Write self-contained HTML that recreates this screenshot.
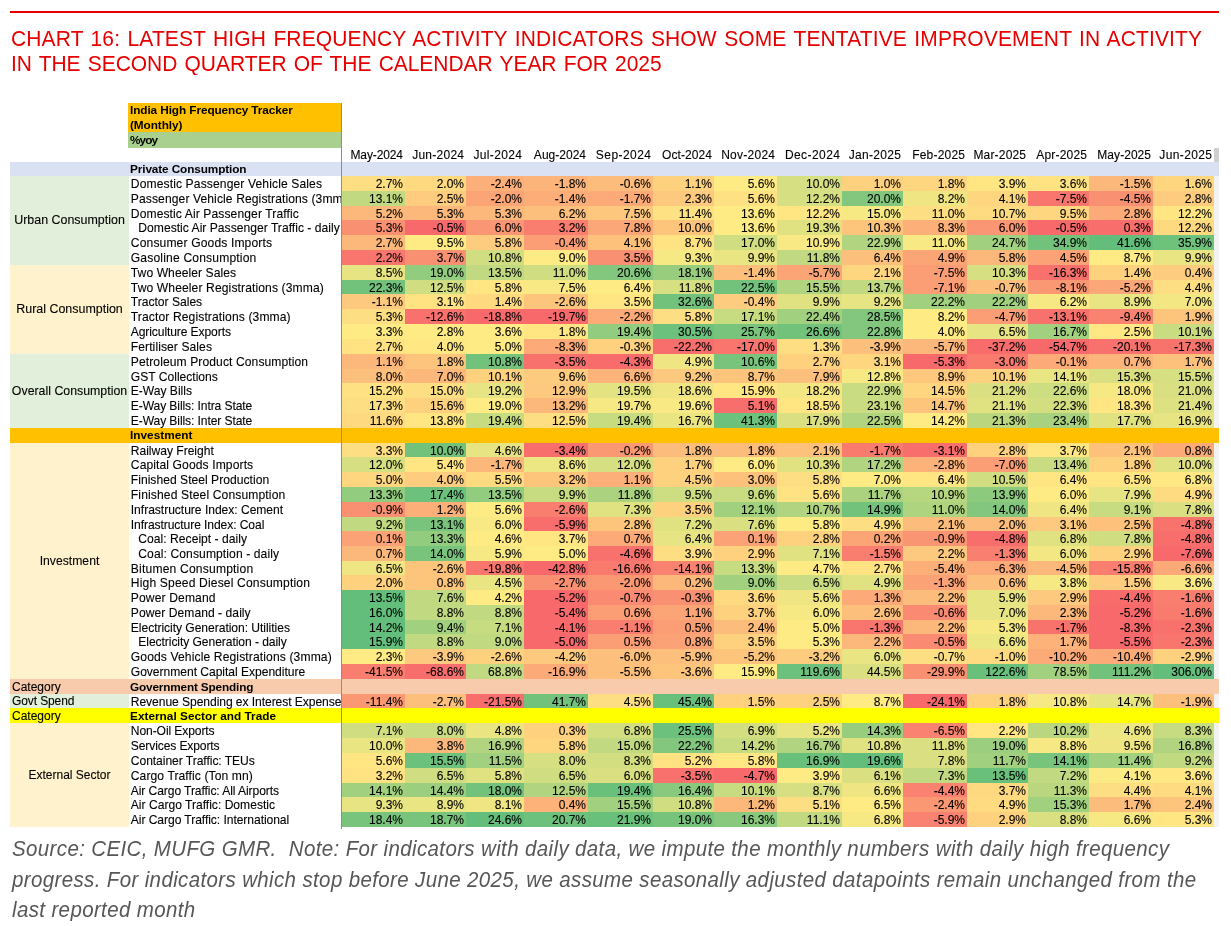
<!DOCTYPE html>
<html><head><meta charset="utf-8"><title>Chart 16</title>
<style>
html,body{margin:0;padding:0;background:#fff;}
body{width:1231px;height:926px;position:relative;overflow:hidden;font-family:"Liberation Sans",Arial,sans-serif;color:#000;}
.c,.l,.cat,.h,.t{-webkit-text-stroke:0.1px #000;}
.abs,.r,.c,.l,.cat,.band,.h{position:absolute;box-sizing:border-box;white-space:nowrap;}
.topline{left:10px;top:11px;width:1209px;height:2px;background:#e60000;}
.title{left:11px;top:25.6px;font-size:21px;line-height:23.3px;color:#e60000;letter-spacing:0.127px;word-spacing:1.4px;transform:scaleY(1.065);transform-origin:0 0;}
.src{left:12px;top:833.2px;font-size:20.5px;line-height:29.57px;color:#575757;font-style:italic;letter-spacing:0.365px;transform:scaleY(1.035);transform-origin:0 0;}
.c{font-size:12px;text-align:right;padding-right:2px;overflow:hidden;}
.h{font-size:12px;text-align:right;padding-right:2px;}
.l{font-size:12.1px;left:129px;width:212px;padding-left:1px;overflow:hidden;}
.cat{font-size:12.4px;left:10px;width:119px;text-align:center;}
.band{left:10px;width:1209px;}
.b{font-weight:bold;font-size:11.8px !important;}
</style></head><body>

<div class="abs topline"></div>
<div class="abs title">CHART 16: LATEST HIGH FREQUENCY ACTIVITY INDICATORS SHOW SOME TENTATIVE IMPROVEMENT IN ACTIVITY<br><span style="letter-spacing:-0.045px">IN THE SECOND QUARTER OF THE CALENDAR YEAR FOR 2025</span></div>
<div class="abs" style="left:128px;top:103px;width:213px;height:29px;background:#ffc000;"></div>
<div class="abs" style="left:128px;top:132px;width:213px;height:16px;background:#a9d08e;"></div>
<div class="abs b" style="left:130px;top:103px;line-height:15.3px;letter-spacing:-0.091px;">India High Frequency Tracker<br>(Monthly)</div>
<div class="abs b" style="left:130px;top:133px;line-height:15px;letter-spacing:-0.9px;">%yoy</div>
<div class="h" style="left:342px;top:148px;width:63px;height:14px;line-height:14px;letter-spacing:-0.114px;padding-right:2.11px;">May-2024</div>
<div class="h" style="left:405px;top:148px;width:61px;height:14px;line-height:14px;letter-spacing:0.257px;padding-right:1.74px;">Jun-2024</div>
<div class="h" style="left:466px;top:148px;width:58px;height:14px;line-height:14px;letter-spacing:0.371px;padding-right:1.63px;">Jul-2024</div>
<div class="h" style="left:524px;top:148px;width:64px;height:14px;line-height:14px;letter-spacing:0.014px;padding-right:1.99px;">Aug-2024</div>
<div class="h" style="left:588px;top:148px;width:65px;height:14px;line-height:14px;letter-spacing:0.443px;padding-right:1.56px;">Sep-2024</div>
<div class="h" style="left:653px;top:148px;width:61px;height:14px;line-height:14px;letter-spacing:0.086px;padding-right:1.91px;">Oct-2024</div>
<div class="h" style="left:714px;top:148px;width:63px;height:14px;line-height:14px;letter-spacing:0.257px;padding-right:1.74px;">Nov-2024</div>
<div class="h" style="left:777px;top:148px;width:65px;height:14px;line-height:14px;letter-spacing:0.443px;padding-right:1.56px;">Dec-2024</div>
<div class="h" style="left:842px;top:148px;width:61px;height:14px;line-height:14px;letter-spacing:0.314px;padding-right:1.69px;">Jan-2025</div>
<div class="h" style="left:903px;top:148px;width:64px;height:14px;line-height:14px;letter-spacing:0.214px;padding-right:1.79px;">Feb-2025</div>
<div class="h" style="left:967px;top:148px;width:61px;height:14px;line-height:14px;letter-spacing:0.171px;padding-right:1.83px;">Mar-2025</div>
<div class="h" style="left:1028px;top:148px;width:61px;height:14px;line-height:14px;letter-spacing:0.2px;padding-right:1.80px;">Apr-2025</div>
<div class="h" style="left:1089px;top:148px;width:64px;height:14px;line-height:14px;letter-spacing:0.043px;padding-right:1.96px;">May-2025</div>
<div class="h" style="left:1153px;top:148px;width:61px;height:14px;line-height:14px;letter-spacing:0.386px;padding-right:1.61px;">Jun-2025</div>
<div class="abs" style="left:1214px;top:148px;width:5px;height:14px;background:#d0d0d0;"></div>
<div class="abs" style="left:1214px;top:162px;width:5px;height:665px;background:#f2f2f2;"></div>
<div class="band" style="top:162px;height:14px;background:#d9e1f2;"></div>
<div class="abs b" style="left:130px;top:162px;height:14px;overflow:hidden;line-height:15px;letter-spacing:-0.115px;">Private Consumption</div>
<div class="band" style="top:428px;height:15px;background:#ffc000;"></div>
<div class="abs b" style="left:130px;top:428px;height:15px;overflow:hidden;line-height:15px;letter-spacing:0.023px;">Investment</div>
<div class="band" style="top:679px;height:15px;background:#f8cbad;"></div>
<div class="abs t" style="left:12px;top:680px;height:15px;line-height:15px;font-size:12px;">Category</div>
<div class="abs b" style="left:130px;top:680px;height:14px;overflow:hidden;line-height:15px;letter-spacing:-0.174px;">Government Spending</div>
<div class="band" style="top:708px;height:15px;background:#ffff00;"></div>
<div class="abs t" style="left:12px;top:709px;height:15px;line-height:15px;font-size:12px;">Category</div>
<div class="abs b" style="left:130px;top:709px;height:14px;overflow:hidden;line-height:15px;letter-spacing:0.021px;">External Sector and Trade</div>
<div class="cat" style="top:176px;height:89px;line-height:89px;background:#e2efda;font-size:12.45px;">Urban Consumption</div>
<div class="cat" style="top:265px;height:89px;line-height:89px;background:#fff2cc;font-size:12.45px;">Rural Consumption</div>
<div class="cat" style="top:354px;height:74px;line-height:74px;background:#e2efda;font-size:12.35px;">Overall Consumption</div>
<div class="cat" style="top:443px;height:236px;line-height:236px;background:#fff2cc;font-size:12.2px;">Investment</div>
<div class="cat" style="top:694px;height:14px;line-height:14px;background:#e2efda;text-align:left;padding-left:2px;font-size:12px;letter-spacing:-0.11px;">Govt Spend</div>
<div class="cat" style="top:723px;height:104px;line-height:104px;background:#fff2cc;font-size:12px;">External Sector</div>
<div class="l" style="top:176px;height:18px;line-height:17px;padding-left:1.8px;letter-spacing:0.118px;">Domestic Passenger Vehicle Sales</div>
<div class="c" style="left:342px;top:176px;width:63px;height:15px;line-height:17px;background:#fede82;">2.7%</div>
<div class="c" style="left:405px;top:176px;width:61px;height:15px;line-height:17px;background:#fed980;">2.0%</div>
<div class="c" style="left:466px;top:176px;width:58px;height:15px;line-height:17px;background:#fcaf78;">-2.4%</div>
<div class="c" style="left:524px;top:176px;width:64px;height:15px;line-height:17px;background:#fcb47a;">-1.8%</div>
<div class="c" style="left:588px;top:176px;width:65px;height:15px;line-height:17px;background:#fcbc7b;">-0.6%</div>
<div class="c" style="left:653px;top:176px;width:61px;height:15px;line-height:17px;background:#fed17f;">1.1%</div>
<div class="c" style="left:714px;top:176px;width:63px;height:15px;line-height:17px;background:#ffeb84;">5.6%</div>
<div class="c" style="left:777px;top:176px;width:65px;height:15px;line-height:17px;background:#d6df82;">10.0%</div>
<div class="c" style="left:842px;top:176px;width:61px;height:15px;line-height:17px;background:#fed17f;">1.0%</div>
<div class="c" style="left:903px;top:176px;width:64px;height:15px;line-height:17px;background:#fed680;">1.8%</div>
<div class="c" style="left:967px;top:176px;width:61px;height:15px;line-height:17px;background:#ffe683;">3.9%</div>
<div class="c" style="left:1028px;top:176px;width:61px;height:15px;line-height:17px;background:#ffe382;">3.6%</div>
<div class="c" style="left:1089px;top:176px;width:64px;height:15px;line-height:17px;background:#fcb77a;">-1.5%</div>
<div class="c" style="left:1153px;top:176px;width:61px;height:15px;line-height:17px;background:#fed680;">1.6%</div>
<div class="l" style="top:191px;height:18px;line-height:17px;padding-left:1.8px;letter-spacing:0.1px;">Passenger Vehicle Registrations (3mma)</div>
<div class="c" style="left:342px;top:191px;width:63px;height:15px;line-height:17px;background:#c1d980;">13.1%</div>
<div class="c" style="left:405px;top:191px;width:61px;height:15px;line-height:17px;background:#fdcc7e;">2.5%</div>
<div class="c" style="left:466px;top:191px;width:58px;height:15px;line-height:17px;background:#fba576;">-2.0%</div>
<div class="c" style="left:524px;top:191px;width:64px;height:15px;line-height:17px;background:#fcad78;">-1.4%</div>
<div class="c" style="left:588px;top:191px;width:65px;height:15px;line-height:17px;background:#fcaa78;">-1.7%</div>
<div class="c" style="left:653px;top:191px;width:61px;height:15px;line-height:17px;background:#fdc97e;">2.3%</div>
<div class="c" style="left:714px;top:191px;width:63px;height:15px;line-height:17px;background:#fee182;">5.6%</div>
<div class="c" style="left:777px;top:191px;width:65px;height:15px;line-height:17px;background:#d6df82;">12.2%</div>
<div class="c" style="left:842px;top:191px;width:61px;height:15px;line-height:17px;background:#82c77d;">20.0%</div>
<div class="c" style="left:903px;top:191px;width:64px;height:15px;line-height:17px;background:#efe683;">8.2%</div>
<div class="c" style="left:967px;top:191px;width:61px;height:15px;line-height:17px;background:#fed680;">4.1%</div>
<div class="c" style="left:1028px;top:191px;width:61px;height:15px;line-height:17px;background:#f9766e;">-7.5%</div>
<div class="c" style="left:1089px;top:191px;width:64px;height:15px;line-height:17px;background:#fa9072;">-4.5%</div>
<div class="c" style="left:1153px;top:191px;width:61px;height:15px;line-height:17px;background:#fdcc7e;">2.8%</div>
<div class="l" style="top:206px;height:17px;line-height:16px;padding-left:1.8px;letter-spacing:0.1px;">Domestic Air Passenger Traffic</div>
<div class="c" style="left:342px;top:206px;width:63px;height:14px;line-height:16px;background:#fcb77a;">5.2%</div>
<div class="c" style="left:405px;top:206px;width:61px;height:14px;line-height:16px;background:#fcb77a;">5.3%</div>
<div class="c" style="left:466px;top:206px;width:58px;height:14px;line-height:16px;background:#fcb77a;">5.3%</div>
<div class="c" style="left:524px;top:206px;width:64px;height:14px;line-height:16px;background:#fdbf7c;">6.2%</div>
<div class="c" style="left:588px;top:206px;width:65px;height:14px;line-height:16px;background:#fdc77d;">7.5%</div>
<div class="c" style="left:653px;top:206px;width:61px;height:14px;line-height:16px;background:#fee182;">11.4%</div>
<div class="c" style="left:714px;top:206px;width:63px;height:14px;line-height:16px;background:#ffeb84;">13.6%</div>
<div class="c" style="left:777px;top:206px;width:65px;height:14px;line-height:16px;background:#ffe683;">12.2%</div>
<div class="c" style="left:842px;top:206px;width:61px;height:14px;line-height:16px;background:#f6e883;">15.0%</div>
<div class="c" style="left:903px;top:206px;width:64px;height:14px;line-height:16px;background:#fede82;">11.0%</div>
<div class="c" style="left:967px;top:206px;width:61px;height:14px;line-height:16px;background:#fedb81;">10.7%</div>
<div class="c" style="left:1028px;top:206px;width:61px;height:14px;line-height:16px;background:#fed680;">9.5%</div>
<div class="c" style="left:1089px;top:206px;width:64px;height:14px;line-height:16px;background:#fcaa78;">2.8%</div>
<div class="c" style="left:1153px;top:206px;width:61px;height:14px;line-height:16px;background:#ffe683;">12.2%</div>
<div class="l" style="top:220px;height:18px;line-height:17px;padding-left:9.3px;letter-spacing:0.018px;">Domestic Air Passenger Traffic - daily</div>
<div class="c" style="left:342px;top:220px;width:63px;height:15px;line-height:17px;background:#fa9072;">5.3%</div>
<div class="c" style="left:405px;top:220px;width:61px;height:15px;line-height:17px;background:#f8696b;">-0.5%</div>
<div class="c" style="left:466px;top:220px;width:58px;height:15px;line-height:17px;background:#fa9674;">6.0%</div>
<div class="c" style="left:524px;top:220px;width:64px;height:15px;line-height:17px;background:#f97e6f;">3.2%</div>
<div class="c" style="left:588px;top:220px;width:65px;height:15px;line-height:17px;background:#fba777;">7.8%</div>
<div class="c" style="left:653px;top:220px;width:61px;height:15px;line-height:17px;background:#fdc47c;">10.0%</div>
<div class="c" style="left:714px;top:220px;width:63px;height:15px;line-height:17px;background:#ffeb84;">13.6%</div>
<div class="c" style="left:777px;top:220px;width:65px;height:15px;line-height:17px;background:#e0e282;">19.3%</div>
<div class="c" style="left:842px;top:220px;width:61px;height:15px;line-height:17px;background:#fdc47c;">10.3%</div>
<div class="c" style="left:903px;top:220px;width:64px;height:15px;line-height:17px;background:#fcaf78;">8.3%</div>
<div class="c" style="left:967px;top:220px;width:61px;height:15px;line-height:17px;background:#fa9674;">6.0%</div>
<div class="c" style="left:1028px;top:220px;width:61px;height:15px;line-height:17px;background:#f8696b;">-0.5%</div>
<div class="c" style="left:1089px;top:220px;width:64px;height:15px;line-height:17px;background:#f86e6c;">0.3%</div>
<div class="c" style="left:1153px;top:220px;width:61px;height:15px;line-height:17px;background:#fed980;">12.2%</div>
<div class="l" style="top:235px;height:18px;line-height:17px;padding-left:1.8px;letter-spacing:0.132px;">Consumer Goods Imports</div>
<div class="c" style="left:342px;top:235px;width:63px;height:15px;line-height:17px;background:#fcb77a;">2.7%</div>
<div class="c" style="left:405px;top:235px;width:61px;height:15px;line-height:17px;background:#ffeb84;">9.5%</div>
<div class="c" style="left:466px;top:235px;width:58px;height:15px;line-height:17px;background:#fdcc7e;">5.8%</div>
<div class="c" style="left:524px;top:235px;width:64px;height:15px;line-height:17px;background:#fb9d75;">-0.4%</div>
<div class="c" style="left:588px;top:235px;width:65px;height:15px;line-height:17px;background:#fdc17c;">4.1%</div>
<div class="c" style="left:653px;top:235px;width:61px;height:15px;line-height:17px;background:#ffe382;">8.7%</div>
<div class="c" style="left:714px;top:235px;width:63px;height:15px;line-height:17px;background:#d0de81;">17.0%</div>
<div class="c" style="left:777px;top:235px;width:65px;height:15px;line-height:17px;background:#f9e984;">10.9%</div>
<div class="c" style="left:842px;top:235px;width:61px;height:15px;line-height:17px;background:#b1d480;">22.9%</div>
<div class="c" style="left:903px;top:235px;width:64px;height:15px;line-height:17px;background:#f9e984;">11.0%</div>
<div class="c" style="left:967px;top:235px;width:61px;height:15px;line-height:17px;background:#a1d07f;">24.7%</div>
<div class="c" style="left:1028px;top:235px;width:61px;height:15px;line-height:17px;background:#73c27c;">34.9%</div>
<div class="c" style="left:1089px;top:235px;width:64px;height:15px;line-height:17px;background:#63be7b;">41.6%</div>
<div class="c" style="left:1153px;top:235px;width:61px;height:15px;line-height:17px;background:#6fc27c;">35.9%</div>
<div class="l" style="top:250px;height:18px;line-height:17px;padding-left:1.8px;letter-spacing:0.168px;">Gasoline Consumption</div>
<div class="c" style="left:342px;top:250px;width:63px;height:15px;line-height:17px;background:#f9766e;">2.2%</div>
<div class="c" style="left:405px;top:250px;width:61px;height:15px;line-height:17px;background:#fa9072;">3.7%</div>
<div class="c" style="left:466px;top:250px;width:58px;height:15px;line-height:17px;background:#d0de81;">10.8%</div>
<div class="c" style="left:524px;top:250px;width:64px;height:15px;line-height:17px;background:#ffeb84;">9.0%</div>
<div class="c" style="left:588px;top:250px;width:65px;height:15px;line-height:17px;background:#fa9072;">3.5%</div>
<div class="c" style="left:653px;top:250px;width:61px;height:15px;line-height:17px;background:#f6e883;">9.3%</div>
<div class="c" style="left:714px;top:250px;width:63px;height:15px;line-height:17px;background:#e9e583;">9.9%</div>
<div class="c" style="left:777px;top:250px;width:65px;height:15px;line-height:17px;background:#c1d980;">11.8%</div>
<div class="c" style="left:842px;top:250px;width:61px;height:15px;line-height:17px;background:#fdbf7c;">6.4%</div>
<div class="c" style="left:903px;top:250px;width:64px;height:15px;line-height:17px;background:#fba576;">4.9%</div>
<div class="c" style="left:967px;top:250px;width:61px;height:15px;line-height:17px;background:#fcb77a;">5.8%</div>
<div class="c" style="left:1028px;top:250px;width:61px;height:15px;line-height:17px;background:#fba276;">4.5%</div>
<div class="c" style="left:1089px;top:250px;width:64px;height:15px;line-height:17px;background:#ffeb84;">8.7%</div>
<div class="c" style="left:1153px;top:250px;width:61px;height:15px;line-height:17px;background:#e9e583;">9.9%</div>
<div class="l" style="top:265px;height:18px;line-height:17px;padding-left:1.8px;letter-spacing:0.073px;">Two Wheeler Sales</div>
<div class="c" style="left:342px;top:265px;width:63px;height:15px;line-height:17px;background:#e6e483;">8.5%</div>
<div class="c" style="left:405px;top:265px;width:61px;height:15px;line-height:17px;background:#92cc7e;">19.0%</div>
<div class="c" style="left:466px;top:265px;width:58px;height:15px;line-height:17px;background:#c1d980;">13.5%</div>
<div class="c" style="left:524px;top:265px;width:64px;height:15px;line-height:17px;background:#d0de81;">11.0%</div>
<div class="c" style="left:588px;top:265px;width:65px;height:15px;line-height:17px;background:#82c77d;">20.6%</div>
<div class="c" style="left:653px;top:265px;width:61px;height:15px;line-height:17px;background:#98cd7e;">18.1%</div>
<div class="c" style="left:714px;top:265px;width:63px;height:15px;line-height:17px;background:#fdbf7c;">-1.4%</div>
<div class="c" style="left:777px;top:265px;width:65px;height:15px;line-height:17px;background:#fba576;">-5.7%</div>
<div class="c" style="left:842px;top:265px;width:61px;height:15px;line-height:17px;background:#fed680;">2.1%</div>
<div class="c" style="left:903px;top:265px;width:64px;height:15px;line-height:17px;background:#fb9d75;">-7.5%</div>
<div class="c" style="left:967px;top:265px;width:61px;height:15px;line-height:17px;background:#d6df82;">10.3%</div>
<div class="c" style="left:1028px;top:265px;width:61px;height:15px;line-height:17px;background:#f8716c;">-16.3%</div>
<div class="c" style="left:1089px;top:265px;width:64px;height:15px;line-height:17px;background:#fed17f;">1.4%</div>
<div class="c" style="left:1153px;top:265px;width:61px;height:15px;line-height:17px;background:#fdcc7e;">0.4%</div>
<div class="l" style="top:280px;height:17px;line-height:16px;padding-left:1.8px;letter-spacing:0.112px;">Two Wheeler Registrations (3mma)</div>
<div class="c" style="left:342px;top:280px;width:63px;height:14px;line-height:16px;background:#73c27c;">22.3%</div>
<div class="c" style="left:405px;top:280px;width:61px;height:14px;line-height:16px;background:#d0de81;">12.5%</div>
<div class="c" style="left:466px;top:280px;width:58px;height:14px;line-height:16px;background:#ffe683;">5.8%</div>
<div class="c" style="left:524px;top:280px;width:64px;height:14px;line-height:16px;background:#f9e984;">7.5%</div>
<div class="c" style="left:588px;top:280px;width:65px;height:14px;line-height:16px;background:#ffeb84;">6.4%</div>
<div class="c" style="left:653px;top:280px;width:61px;height:14px;line-height:16px;background:#d6df82;">11.8%</div>
<div class="c" style="left:714px;top:280px;width:63px;height:14px;line-height:16px;background:#73c27c;">22.5%</div>
<div class="c" style="left:777px;top:280px;width:65px;height:14px;line-height:16px;background:#b1d480;">15.5%</div>
<div class="c" style="left:842px;top:280px;width:61px;height:14px;line-height:16px;background:#c1d980;">13.7%</div>
<div class="c" style="left:903px;top:280px;width:64px;height:14px;line-height:16px;background:#fb9d75;">-7.1%</div>
<div class="c" style="left:967px;top:280px;width:61px;height:14px;line-height:16px;background:#fdbf7c;">-0.7%</div>
<div class="c" style="left:1028px;top:280px;width:61px;height:14px;line-height:16px;background:#fb9874;">-8.1%</div>
<div class="c" style="left:1089px;top:280px;width:64px;height:14px;line-height:16px;background:#fba777;">-5.2%</div>
<div class="c" style="left:1153px;top:280px;width:61px;height:14px;line-height:16px;background:#fede82;">4.4%</div>
<div class="l" style="top:294px;height:18px;line-height:17px;padding-left:1.8px;letter-spacing:-0.008px;">Tractor Sales</div>
<div class="c" style="left:342px;top:294px;width:63px;height:15px;line-height:17px;background:#fdc97e;">-1.1%</div>
<div class="c" style="left:405px;top:294px;width:61px;height:15px;line-height:17px;background:#ffe382;">3.1%</div>
<div class="c" style="left:466px;top:294px;width:58px;height:15px;line-height:17px;background:#fed980;">1.4%</div>
<div class="c" style="left:524px;top:294px;width:64px;height:15px;line-height:17px;background:#fdc47c;">-2.6%</div>
<div class="c" style="left:588px;top:294px;width:65px;height:15px;line-height:17px;background:#ffe683;">3.5%</div>
<div class="c" style="left:653px;top:294px;width:61px;height:15px;line-height:17px;background:#73c27c;">32.6%</div>
<div class="c" style="left:714px;top:294px;width:63px;height:15px;line-height:17px;background:#fdcc7e;">-0.4%</div>
<div class="c" style="left:777px;top:294px;width:65px;height:15px;line-height:17px;background:#e0e282;">9.9%</div>
<div class="c" style="left:842px;top:294px;width:61px;height:15px;line-height:17px;background:#e6e483;">9.2%</div>
<div class="c" style="left:903px;top:294px;width:64px;height:15px;line-height:17px;background:#a1d07f;">22.2%</div>
<div class="c" style="left:967px;top:294px;width:61px;height:15px;line-height:17px;background:#a1d07f;">22.2%</div>
<div class="c" style="left:1028px;top:294px;width:61px;height:15px;line-height:17px;background:#f6e883;">6.2%</div>
<div class="c" style="left:1089px;top:294px;width:64px;height:15px;line-height:17px;background:#e9e583;">8.9%</div>
<div class="c" style="left:1153px;top:294px;width:61px;height:15px;line-height:17px;background:#f3e783;">7.0%</div>
<div class="l" style="top:309px;height:18px;line-height:17px;padding-left:1.8px;letter-spacing:0.112px;">Tractor Registrations (3mma)</div>
<div class="c" style="left:342px;top:309px;width:63px;height:15px;line-height:17px;background:#fede82;">5.3%</div>
<div class="c" style="left:405px;top:309px;width:61px;height:15px;line-height:17px;background:#f8716c;">-12.6%</div>
<div class="c" style="left:466px;top:309px;width:58px;height:15px;line-height:17px;background:#f8696b;">-18.8%</div>
<div class="c" style="left:524px;top:309px;width:64px;height:15px;line-height:17px;background:#f8696b;">-19.7%</div>
<div class="c" style="left:588px;top:309px;width:65px;height:15px;line-height:17px;background:#fcaa78;">-2.2%</div>
<div class="c" style="left:653px;top:309px;width:61px;height:15px;line-height:17px;background:#fede82;">5.8%</div>
<div class="c" style="left:714px;top:309px;width:63px;height:15px;line-height:17px;background:#c7db81;">17.1%</div>
<div class="c" style="left:777px;top:309px;width:65px;height:15px;line-height:17px;background:#a1d07f;">22.4%</div>
<div class="c" style="left:842px;top:309px;width:61px;height:15px;line-height:17px;background:#82c77d;">28.5%</div>
<div class="c" style="left:903px;top:309px;width:64px;height:15px;line-height:17px;background:#ffeb84;">8.2%</div>
<div class="c" style="left:967px;top:309px;width:61px;height:15px;line-height:17px;background:#fb9d75;">-4.7%</div>
<div class="c" style="left:1028px;top:309px;width:61px;height:15px;line-height:17px;background:#f8716c;">-13.1%</div>
<div class="c" style="left:1089px;top:309px;width:64px;height:15px;line-height:17px;background:#f98370;">-9.4%</div>
<div class="c" style="left:1153px;top:309px;width:61px;height:15px;line-height:17px;background:#fdc47c;">1.9%</div>
<div class="l" style="top:324px;height:18px;line-height:17px;padding-left:1.8px;letter-spacing:-0.112px;">Agriculture Exports</div>
<div class="c" style="left:342px;top:324px;width:63px;height:15px;line-height:17px;background:#ffeb84;">3.3%</div>
<div class="c" style="left:405px;top:324px;width:61px;height:15px;line-height:17px;background:#ffeb84;">2.8%</div>
<div class="c" style="left:466px;top:324px;width:58px;height:15px;line-height:17px;background:#ffeb84;">3.6%</div>
<div class="c" style="left:524px;top:324px;width:64px;height:15px;line-height:17px;background:#ffe683;">1.8%</div>
<div class="c" style="left:588px;top:324px;width:65px;height:15px;line-height:17px;background:#92cc7e;">19.4%</div>
<div class="c" style="left:653px;top:324px;width:61px;height:15px;line-height:17px;background:#6cc17c;">30.5%</div>
<div class="c" style="left:714px;top:324px;width:63px;height:15px;line-height:17px;background:#79c47c;">25.7%</div>
<div class="c" style="left:777px;top:324px;width:65px;height:15px;line-height:17px;background:#73c27c;">26.6%</div>
<div class="c" style="left:842px;top:324px;width:61px;height:15px;line-height:17px;background:#82c77d;">22.8%</div>
<div class="c" style="left:903px;top:324px;width:64px;height:15px;line-height:17px;background:#ffeb84;">4.0%</div>
<div class="c" style="left:967px;top:324px;width:61px;height:15px;line-height:17px;background:#e6e483;">6.5%</div>
<div class="c" style="left:1028px;top:324px;width:61px;height:15px;line-height:17px;background:#a1d07f;">16.7%</div>
<div class="c" style="left:1089px;top:324px;width:64px;height:15px;line-height:17px;background:#ffe884;">2.5%</div>
<div class="c" style="left:1153px;top:324px;width:61px;height:15px;line-height:17px;background:#cadc81;">10.1%</div>
<div class="l" style="top:339px;height:18px;line-height:17px;padding-left:1.8px;letter-spacing:0.079px;">Fertiliser Sales</div>
<div class="c" style="left:342px;top:339px;width:63px;height:15px;line-height:17px;background:#ffe382;">2.7%</div>
<div class="c" style="left:405px;top:339px;width:61px;height:15px;line-height:17px;background:#ffe884;">4.0%</div>
<div class="c" style="left:466px;top:339px;width:58px;height:15px;line-height:17px;background:#ffeb84;">5.0%</div>
<div class="c" style="left:524px;top:339px;width:64px;height:15px;line-height:17px;background:#fcaa78;">-8.3%</div>
<div class="c" style="left:588px;top:339px;width:65px;height:15px;line-height:17px;background:#fed17f;">-0.3%</div>
<div class="c" style="left:653px;top:339px;width:61px;height:15px;line-height:17px;background:#f86e6c;">-22.2%</div>
<div class="c" style="left:714px;top:339px;width:63px;height:15px;line-height:17px;background:#f9756d;">-17.0%</div>
<div class="c" style="left:777px;top:339px;width:65px;height:15px;line-height:17px;background:#fede82;">1.3%</div>
<div class="c" style="left:842px;top:339px;width:61px;height:15px;line-height:17px;background:#fdbf7c;">-3.9%</div>
<div class="c" style="left:903px;top:339px;width:64px;height:15px;line-height:17px;background:#fcb77a;">-5.7%</div>
<div class="c" style="left:967px;top:339px;width:61px;height:15px;line-height:17px;background:#f86c6c;">-37.2%</div>
<div class="c" style="left:1028px;top:339px;width:61px;height:15px;line-height:17px;background:#f8696b;">-54.7%</div>
<div class="c" style="left:1089px;top:339px;width:64px;height:15px;line-height:17px;background:#f8716c;">-20.1%</div>
<div class="c" style="left:1153px;top:339px;width:61px;height:15px;line-height:17px;background:#f9736d;">-17.3%</div>
<div class="l" style="top:354px;height:18px;line-height:17px;padding-left:1.8px;letter-spacing:0.09px;">Petroleum Product Consumption</div>
<div class="c" style="left:342px;top:354px;width:63px;height:15px;line-height:17px;background:#fcb77a;">1.1%</div>
<div class="c" style="left:405px;top:354px;width:61px;height:15px;line-height:17px;background:#fdc47c;">1.8%</div>
<div class="c" style="left:466px;top:354px;width:58px;height:15px;line-height:17px;background:#73c27c;">10.8%</div>
<div class="c" style="left:524px;top:354px;width:64px;height:15px;line-height:17px;background:#f8716c;">-3.5%</div>
<div class="c" style="left:588px;top:354px;width:65px;height:15px;line-height:17px;background:#f86c6c;">-4.3%</div>
<div class="c" style="left:653px;top:354px;width:61px;height:15px;line-height:17px;background:#efe683;">4.9%</div>
<div class="c" style="left:714px;top:354px;width:63px;height:15px;line-height:17px;background:#79c47c;">10.6%</div>
<div class="c" style="left:777px;top:354px;width:65px;height:15px;line-height:17px;background:#fed17f;">2.7%</div>
<div class="c" style="left:842px;top:354px;width:61px;height:15px;line-height:17px;background:#fed680;">3.1%</div>
<div class="c" style="left:903px;top:354px;width:64px;height:15px;line-height:17px;background:#f8696b;">-5.3%</div>
<div class="c" style="left:967px;top:354px;width:61px;height:15px;line-height:17px;background:#f97b6e;">-3.0%</div>
<div class="c" style="left:1028px;top:354px;width:61px;height:15px;line-height:17px;background:#fcaa78;">-0.1%</div>
<div class="c" style="left:1089px;top:354px;width:64px;height:15px;line-height:17px;background:#fcb47a;">0.7%</div>
<div class="c" style="left:1153px;top:354px;width:61px;height:15px;line-height:17px;background:#fdc17c;">1.7%</div>
<div class="l" style="top:369px;height:17px;line-height:16px;padding-left:1.8px;letter-spacing:-0.007px;">GST Collections</div>
<div class="c" style="left:342px;top:369px;width:63px;height:14px;line-height:16px;background:#fdbf7c;">8.0%</div>
<div class="c" style="left:405px;top:369px;width:61px;height:14px;line-height:16px;background:#fcb77a;">7.0%</div>
<div class="c" style="left:466px;top:369px;width:58px;height:14px;line-height:16px;background:#fed17f;">10.1%</div>
<div class="c" style="left:524px;top:369px;width:64px;height:14px;line-height:16px;background:#fdcc7e;">9.6%</div>
<div class="c" style="left:588px;top:369px;width:65px;height:14px;line-height:16px;background:#fcb47a;">6.6%</div>
<div class="c" style="left:653px;top:369px;width:61px;height:14px;line-height:16px;background:#fdc97e;">9.2%</div>
<div class="c" style="left:714px;top:369px;width:63px;height:14px;line-height:16px;background:#fdc47c;">8.7%</div>
<div class="c" style="left:777px;top:369px;width:65px;height:14px;line-height:16px;background:#fdbf7c;">7.9%</div>
<div class="c" style="left:842px;top:369px;width:61px;height:14px;line-height:16px;background:#f6e883;">12.8%</div>
<div class="c" style="left:903px;top:369px;width:64px;height:14px;line-height:16px;background:#fdc77d;">8.9%</div>
<div class="c" style="left:967px;top:369px;width:61px;height:14px;line-height:16px;background:#fed17f;">10.1%</div>
<div class="c" style="left:1028px;top:369px;width:61px;height:14px;line-height:16px;background:#e9e583;">14.1%</div>
<div class="c" style="left:1089px;top:369px;width:64px;height:14px;line-height:16px;background:#dae082;">15.3%</div>
<div class="c" style="left:1153px;top:369px;width:61px;height:14px;line-height:16px;background:#d6df82;">15.5%</div>
<div class="l" style="top:383px;height:18px;line-height:17px;padding-left:1.8px;letter-spacing:-0.02px;">E-Way Bills</div>
<div class="c" style="left:342px;top:383px;width:63px;height:15px;line-height:17px;background:#fee182;">15.2%</div>
<div class="c" style="left:405px;top:383px;width:61px;height:15px;line-height:17px;background:#fede82;">15.0%</div>
<div class="c" style="left:466px;top:383px;width:58px;height:15px;line-height:17px;background:#e6e483;">19.2%</div>
<div class="c" style="left:524px;top:383px;width:64px;height:15px;line-height:17px;background:#fdc97e;">12.9%</div>
<div class="c" style="left:588px;top:383px;width:65px;height:15px;line-height:17px;background:#e3e382;">19.5%</div>
<div class="c" style="left:653px;top:383px;width:61px;height:15px;line-height:17px;background:#efe683;">18.6%</div>
<div class="c" style="left:714px;top:383px;width:63px;height:15px;line-height:17px;background:#ffe683;">15.9%</div>
<div class="c" style="left:777px;top:383px;width:65px;height:15px;line-height:17px;background:#f3e783;">18.2%</div>
<div class="c" style="left:842px;top:383px;width:61px;height:15px;line-height:17px;background:#cadc81;">22.9%</div>
<div class="c" style="left:903px;top:383px;width:64px;height:15px;line-height:17px;background:#fed680;">14.5%</div>
<div class="c" style="left:967px;top:383px;width:61px;height:15px;line-height:17px;background:#dae082;">21.2%</div>
<div class="c" style="left:1028px;top:383px;width:61px;height:15px;line-height:17px;background:#cddd81;">22.6%</div>
<div class="c" style="left:1089px;top:383px;width:64px;height:15px;line-height:17px;background:#f6e883;">18.0%</div>
<div class="c" style="left:1153px;top:383px;width:61px;height:15px;line-height:17px;background:#dae082;">21.0%</div>
<div class="l" style="top:398px;height:18px;line-height:17px;padding-left:1.8px;letter-spacing:-0.106px;">E-Way Bills: Intra State</div>
<div class="c" style="left:342px;top:398px;width:63px;height:15px;line-height:17px;background:#fede82;">17.3%</div>
<div class="c" style="left:405px;top:398px;width:61px;height:15px;line-height:17px;background:#fed17f;">15.6%</div>
<div class="c" style="left:466px;top:398px;width:58px;height:15px;line-height:17px;background:#ffeb84;">19.0%</div>
<div class="c" style="left:524px;top:398px;width:64px;height:15px;line-height:17px;background:#fcb77a;">13.2%</div>
<div class="c" style="left:588px;top:398px;width:65px;height:15px;line-height:17px;background:#f6e883;">19.7%</div>
<div class="c" style="left:653px;top:398px;width:61px;height:15px;line-height:17px;background:#f9e984;">19.6%</div>
<div class="c" style="left:714px;top:398px;width:63px;height:15px;line-height:17px;background:#f86e6c;">5.1%</div>
<div class="c" style="left:777px;top:398px;width:65px;height:15px;line-height:17px;background:#ffe683;">18.5%</div>
<div class="c" style="left:842px;top:398px;width:61px;height:15px;line-height:17px;background:#cadc81;">23.1%</div>
<div class="c" style="left:903px;top:398px;width:64px;height:15px;line-height:17px;background:#fdc47c;">14.7%</div>
<div class="c" style="left:967px;top:398px;width:61px;height:15px;line-height:17px;background:#e0e282;">21.1%</div>
<div class="c" style="left:1028px;top:398px;width:61px;height:15px;line-height:17px;background:#d3de81;">22.3%</div>
<div class="c" style="left:1089px;top:398px;width:64px;height:15px;line-height:17px;background:#ffe683;">18.3%</div>
<div class="c" style="left:1153px;top:398px;width:61px;height:15px;line-height:17px;background:#dde182;">21.4%</div>
<div class="l" style="top:413px;height:18px;line-height:17px;padding-left:1.8px;letter-spacing:-0.106px;">E-Way Bills: Inter State</div>
<div class="c" style="left:342px;top:413px;width:63px;height:15px;line-height:17px;background:#fed980;">11.6%</div>
<div class="c" style="left:405px;top:413px;width:61px;height:15px;line-height:17px;background:#ffe683;">13.8%</div>
<div class="c" style="left:466px;top:413px;width:58px;height:15px;line-height:17px;background:#c7db81;">19.4%</div>
<div class="c" style="left:524px;top:413px;width:64px;height:15px;line-height:17px;background:#fede82;">12.5%</div>
<div class="c" style="left:588px;top:413px;width:65px;height:15px;line-height:17px;background:#c7db81;">19.4%</div>
<div class="c" style="left:653px;top:413px;width:61px;height:15px;line-height:17px;background:#e9e583;">16.7%</div>
<div class="c" style="left:714px;top:413px;width:63px;height:15px;line-height:17px;background:#6cc17c;">41.3%</div>
<div class="c" style="left:777px;top:413px;width:65px;height:15px;line-height:17px;background:#dae082;">17.9%</div>
<div class="c" style="left:842px;top:413px;width:61px;height:15px;line-height:17px;background:#b1d480;">22.5%</div>
<div class="c" style="left:903px;top:413px;width:64px;height:15px;line-height:17px;background:#ffeb84;">14.2%</div>
<div class="c" style="left:967px;top:413px;width:61px;height:15px;line-height:17px;background:#bad780;">21.3%</div>
<div class="c" style="left:1028px;top:413px;width:61px;height:15px;line-height:17px;background:#a8d27f;">23.4%</div>
<div class="c" style="left:1089px;top:413px;width:64px;height:15px;line-height:17px;background:#e0e282;">17.7%</div>
<div class="c" style="left:1153px;top:413px;width:61px;height:15px;line-height:17px;background:#e6e483;">16.9%</div>
<div class="l" style="top:443px;height:17px;line-height:16px;padding-left:1.8px;letter-spacing:-0.027px;">Railway Freight</div>
<div class="c" style="left:342px;top:443px;width:63px;height:14px;line-height:16px;background:#fede82;">3.3%</div>
<div class="c" style="left:405px;top:443px;width:61px;height:14px;line-height:16px;background:#73c27c;">10.0%</div>
<div class="c" style="left:466px;top:443px;width:58px;height:14px;line-height:16px;background:#e6e483;">4.6%</div>
<div class="c" style="left:524px;top:443px;width:64px;height:14px;line-height:16px;background:#f86e6c;">-3.4%</div>
<div class="c" style="left:588px;top:443px;width:65px;height:14px;line-height:16px;background:#fb9874;">-0.2%</div>
<div class="c" style="left:653px;top:443px;width:61px;height:14px;line-height:16px;background:#fcbc7b;">1.8%</div>
<div class="c" style="left:714px;top:443px;width:63px;height:14px;line-height:16px;background:#fcbc7b;">1.8%</div>
<div class="c" style="left:777px;top:443px;width:65px;height:14px;line-height:16px;background:#fdc17c;">2.1%</div>
<div class="c" style="left:842px;top:443px;width:61px;height:14px;line-height:16px;background:#f97b6e;">-1.7%</div>
<div class="c" style="left:903px;top:443px;width:64px;height:14px;line-height:16px;background:#f86e6c;">-3.1%</div>
<div class="c" style="left:967px;top:443px;width:61px;height:14px;line-height:16px;background:#fed17f;">2.8%</div>
<div class="c" style="left:1028px;top:443px;width:61px;height:14px;line-height:16px;background:#ffe683;">3.7%</div>
<div class="c" style="left:1089px;top:443px;width:64px;height:14px;line-height:16px;background:#fdc17c;">2.1%</div>
<div class="c" style="left:1153px;top:443px;width:61px;height:14px;line-height:16px;background:#fcaa78;">0.8%</div>
<div class="l" style="top:457px;height:18px;line-height:17px;padding-left:1.8px;letter-spacing:0.101px;">Capital Goods Imports</div>
<div class="c" style="left:342px;top:457px;width:63px;height:15px;line-height:17px;background:#d6df82;">12.0%</div>
<div class="c" style="left:405px;top:457px;width:61px;height:15px;line-height:17px;background:#ffe683;">5.4%</div>
<div class="c" style="left:466px;top:457px;width:58px;height:15px;line-height:17px;background:#fcb77a;">-1.7%</div>
<div class="c" style="left:524px;top:457px;width:64px;height:15px;line-height:17px;background:#ece683;">8.6%</div>
<div class="c" style="left:588px;top:457px;width:65px;height:15px;line-height:17px;background:#d6df82;">12.0%</div>
<div class="c" style="left:653px;top:457px;width:61px;height:15px;line-height:17px;background:#fed17f;">1.7%</div>
<div class="c" style="left:714px;top:457px;width:63px;height:15px;line-height:17px;background:#ffeb84;">6.0%</div>
<div class="c" style="left:777px;top:457px;width:65px;height:15px;line-height:17px;background:#e0e282;">10.3%</div>
<div class="c" style="left:842px;top:457px;width:61px;height:15px;line-height:17px;background:#b1d480;">17.2%</div>
<div class="c" style="left:903px;top:457px;width:64px;height:15px;line-height:17px;background:#fcb279;">-2.8%</div>
<div class="c" style="left:967px;top:457px;width:61px;height:15px;line-height:17px;background:#fb9d75;">-7.0%</div>
<div class="c" style="left:1028px;top:457px;width:61px;height:15px;line-height:17px;background:#cadc81;">13.4%</div>
<div class="c" style="left:1089px;top:457px;width:64px;height:15px;line-height:17px;background:#fed17f;">1.8%</div>
<div class="c" style="left:1153px;top:457px;width:61px;height:15px;line-height:17px;background:#e0e282;">10.0%</div>
<div class="l" style="top:472px;height:18px;line-height:17px;padding-left:1.8px;letter-spacing:0.021px;">Finished Steel Production</div>
<div class="c" style="left:342px;top:472px;width:63px;height:15px;line-height:17px;background:#fed680;">5.0%</div>
<div class="c" style="left:405px;top:472px;width:61px;height:15px;line-height:17px;background:#fdcc7e;">4.0%</div>
<div class="c" style="left:466px;top:472px;width:58px;height:15px;line-height:17px;background:#fedb81;">5.5%</div>
<div class="c" style="left:524px;top:472px;width:64px;height:15px;line-height:17px;background:#fdc47c;">3.2%</div>
<div class="c" style="left:588px;top:472px;width:65px;height:15px;line-height:17px;background:#fcaf78;">1.1%</div>
<div class="c" style="left:653px;top:472px;width:61px;height:15px;line-height:17px;background:#fed17f;">4.5%</div>
<div class="c" style="left:714px;top:472px;width:63px;height:15px;line-height:17px;background:#fdc17c;">3.0%</div>
<div class="c" style="left:777px;top:472px;width:65px;height:15px;line-height:17px;background:#fede82;">5.8%</div>
<div class="c" style="left:842px;top:472px;width:61px;height:15px;line-height:17px;background:#ffeb84;">7.0%</div>
<div class="c" style="left:903px;top:472px;width:64px;height:15px;line-height:17px;background:#ffe683;">6.4%</div>
<div class="c" style="left:967px;top:472px;width:61px;height:15px;line-height:17px;background:#d0de81;">10.5%</div>
<div class="c" style="left:1028px;top:472px;width:61px;height:15px;line-height:17px;background:#ffe683;">6.4%</div>
<div class="c" style="left:1089px;top:472px;width:64px;height:15px;line-height:17px;background:#ffe683;">6.5%</div>
<div class="c" style="left:1153px;top:472px;width:61px;height:15px;line-height:17px;background:#ffe884;">6.8%</div>
<div class="l" style="top:487px;height:18px;line-height:17px;padding-left:1.8px;letter-spacing:0.127px;">Finished Steel Consumption</div>
<div class="c" style="left:342px;top:487px;width:63px;height:15px;line-height:17px;background:#92cc7e;">13.3%</div>
<div class="c" style="left:405px;top:487px;width:61px;height:15px;line-height:17px;background:#6cc17c;">17.4%</div>
<div class="c" style="left:466px;top:487px;width:58px;height:15px;line-height:17px;background:#92cc7e;">13.5%</div>
<div class="c" style="left:524px;top:487px;width:64px;height:15px;line-height:17px;background:#c7db81;">9.9%</div>
<div class="c" style="left:588px;top:487px;width:65px;height:15px;line-height:17px;background:#abd37f;">11.8%</div>
<div class="c" style="left:653px;top:487px;width:61px;height:15px;line-height:17px;background:#cddd81;">9.5%</div>
<div class="c" style="left:714px;top:487px;width:63px;height:15px;line-height:17px;background:#cadc81;">9.6%</div>
<div class="c" style="left:777px;top:487px;width:65px;height:15px;line-height:17px;background:#ffe382;">5.6%</div>
<div class="c" style="left:842px;top:487px;width:61px;height:15px;line-height:17px;background:#abd37f;">11.7%</div>
<div class="c" style="left:903px;top:487px;width:64px;height:15px;line-height:17px;background:#b7d680;">10.9%</div>
<div class="c" style="left:967px;top:487px;width:61px;height:15px;line-height:17px;background:#8cca7d;">13.9%</div>
<div class="c" style="left:1028px;top:487px;width:61px;height:15px;line-height:17px;background:#ffeb84;">6.0%</div>
<div class="c" style="left:1089px;top:487px;width:64px;height:15px;line-height:17px;background:#e6e483;">7.9%</div>
<div class="c" style="left:1153px;top:487px;width:61px;height:15px;line-height:17px;background:#fedb81;">4.9%</div>
<div class="l" style="top:502px;height:18px;line-height:17px;padding-left:1.8px;letter-spacing:-0.035px;">Infrastructure Index: Cement</div>
<div class="c" style="left:342px;top:502px;width:63px;height:15px;line-height:17px;background:#fa9072;">-0.9%</div>
<div class="c" style="left:405px;top:502px;width:61px;height:15px;line-height:17px;background:#fcaf78;">1.2%</div>
<div class="c" style="left:466px;top:502px;width:58px;height:15px;line-height:17px;background:#ffeb84;">5.6%</div>
<div class="c" style="left:524px;top:502px;width:64px;height:15px;line-height:17px;background:#f97e6f;">-2.6%</div>
<div class="c" style="left:588px;top:502px;width:65px;height:15px;line-height:17px;background:#e0e282;">7.3%</div>
<div class="c" style="left:653px;top:502px;width:61px;height:15px;line-height:17px;background:#fed17f;">3.5%</div>
<div class="c" style="left:714px;top:502px;width:63px;height:15px;line-height:17px;background:#a1d07f;">12.1%</div>
<div class="c" style="left:777px;top:502px;width:65px;height:15px;line-height:17px;background:#b1d480;">10.7%</div>
<div class="c" style="left:842px;top:502px;width:61px;height:15px;line-height:17px;background:#73c27c;">14.9%</div>
<div class="c" style="left:903px;top:502px;width:64px;height:15px;line-height:17px;background:#aed47f;">11.0%</div>
<div class="c" style="left:967px;top:502px;width:61px;height:15px;line-height:17px;background:#82c77d;">14.0%</div>
<div class="c" style="left:1028px;top:502px;width:61px;height:15px;line-height:17px;background:#efe683;">6.4%</div>
<div class="c" style="left:1089px;top:502px;width:64px;height:15px;line-height:17px;background:#c7db81;">9.1%</div>
<div class="c" style="left:1153px;top:502px;width:61px;height:15px;line-height:17px;background:#dae082;">7.8%</div>
<div class="l" style="top:517px;height:17px;line-height:16px;padding-left:1.8px;letter-spacing:-0.09px;">Infrastructure Index: Coal</div>
<div class="c" style="left:342px;top:517px;width:63px;height:14px;line-height:16px;background:#c1d980;">9.2%</div>
<div class="c" style="left:405px;top:517px;width:61px;height:14px;line-height:16px;background:#79c47c;">13.1%</div>
<div class="c" style="left:466px;top:517px;width:58px;height:14px;line-height:16px;background:#f9e984;">6.0%</div>
<div class="c" style="left:524px;top:517px;width:64px;height:14px;line-height:16px;background:#f86e6c;">-5.9%</div>
<div class="c" style="left:588px;top:517px;width:65px;height:14px;line-height:16px;background:#fdc47c;">2.8%</div>
<div class="c" style="left:653px;top:517px;width:61px;height:14px;line-height:16px;background:#e0e282;">7.2%</div>
<div class="c" style="left:714px;top:517px;width:63px;height:14px;line-height:16px;background:#dae082;">7.6%</div>
<div class="c" style="left:777px;top:517px;width:65px;height:14px;line-height:16px;background:#ffeb84;">5.8%</div>
<div class="c" style="left:842px;top:517px;width:61px;height:14px;line-height:16px;background:#fede82;">4.9%</div>
<div class="c" style="left:903px;top:517px;width:64px;height:14px;line-height:16px;background:#fcbc7b;">2.1%</div>
<div class="c" style="left:967px;top:517px;width:61px;height:14px;line-height:16px;background:#fcbc7b;">2.0%</div>
<div class="c" style="left:1028px;top:517px;width:61px;height:14px;line-height:16px;background:#fdc97e;">3.1%</div>
<div class="c" style="left:1089px;top:517px;width:64px;height:14px;line-height:16px;background:#fdc17c;">2.5%</div>
<div class="c" style="left:1153px;top:517px;width:61px;height:14px;line-height:16px;background:#f9736d;">-4.8%</div>
<div class="l" style="top:531px;height:18px;line-height:17px;padding-left:9.3px;letter-spacing:0.026px;">Coal: Receipt - daily</div>
<div class="c" style="left:342px;top:531px;width:63px;height:15px;line-height:17px;background:#fba276;">0.1%</div>
<div class="c" style="left:405px;top:531px;width:61px;height:15px;line-height:17px;background:#92cc7e;">13.3%</div>
<div class="c" style="left:466px;top:531px;width:58px;height:15px;line-height:17px;background:#ffeb84;">4.6%</div>
<div class="c" style="left:524px;top:531px;width:64px;height:15px;line-height:17px;background:#ffe683;">3.7%</div>
<div class="c" style="left:588px;top:531px;width:65px;height:15px;line-height:17px;background:#fcaa78;">0.7%</div>
<div class="c" style="left:653px;top:531px;width:61px;height:15px;line-height:17px;background:#e6e483;">6.4%</div>
<div class="c" style="left:714px;top:531px;width:63px;height:15px;line-height:17px;background:#fba276;">0.1%</div>
<div class="c" style="left:777px;top:531px;width:65px;height:15px;line-height:17px;background:#fed17f;">2.8%</div>
<div class="c" style="left:842px;top:531px;width:61px;height:15px;line-height:17px;background:#fba576;">0.2%</div>
<div class="c" style="left:903px;top:531px;width:64px;height:15px;line-height:17px;background:#fa9574;">-0.9%</div>
<div class="c" style="left:967px;top:531px;width:61px;height:15px;line-height:17px;background:#f86e6c;">-4.8%</div>
<div class="c" style="left:1028px;top:531px;width:61px;height:15px;line-height:17px;background:#e0e282;">6.8%</div>
<div class="c" style="left:1089px;top:531px;width:64px;height:15px;line-height:17px;background:#d0de81;">7.8%</div>
<div class="c" style="left:1153px;top:531px;width:61px;height:15px;line-height:17px;background:#f86e6c;">-4.8%</div>
<div class="l" style="top:546px;height:18px;line-height:17px;padding-left:9.3px;letter-spacing:0.094px;">Coal: Consumption - daily</div>
<div class="c" style="left:342px;top:546px;width:63px;height:15px;line-height:17px;background:#fcb77a;">0.7%</div>
<div class="c" style="left:405px;top:546px;width:61px;height:15px;line-height:17px;background:#79c47c;">14.0%</div>
<div class="c" style="left:466px;top:546px;width:58px;height:15px;line-height:17px;background:#f6e883;">5.9%</div>
<div class="c" style="left:524px;top:546px;width:64px;height:15px;line-height:17px;background:#ffeb84;">5.0%</div>
<div class="c" style="left:588px;top:546px;width:65px;height:15px;line-height:17px;background:#f8716c;">-4.6%</div>
<div class="c" style="left:653px;top:546px;width:61px;height:15px;line-height:17px;background:#fede82;">3.9%</div>
<div class="c" style="left:714px;top:546px;width:63px;height:15px;line-height:17px;background:#fed17f;">2.9%</div>
<div class="c" style="left:777px;top:546px;width:65px;height:15px;line-height:17px;background:#e0e282;">7.1%</div>
<div class="c" style="left:842px;top:546px;width:61px;height:15px;line-height:17px;background:#f97e6f;">-1.5%</div>
<div class="c" style="left:903px;top:546px;width:64px;height:15px;line-height:17px;background:#fdc97e;">2.2%</div>
<div class="c" style="left:967px;top:546px;width:61px;height:15px;line-height:17px;background:#f98070;">-1.3%</div>
<div class="c" style="left:1028px;top:546px;width:61px;height:15px;line-height:17px;background:#f3e783;">6.0%</div>
<div class="c" style="left:1089px;top:546px;width:64px;height:15px;line-height:17px;background:#fed17f;">2.9%</div>
<div class="c" style="left:1153px;top:546px;width:61px;height:15px;line-height:17px;background:#f8696b;">-7.6%</div>
<div class="l" style="top:561px;height:17px;line-height:16px;padding-left:1.8px;letter-spacing:0.186px;">Bitumen Consumption</div>
<div class="c" style="left:342px;top:561px;width:63px;height:14px;line-height:16px;background:#efe683;">6.5%</div>
<div class="c" style="left:405px;top:561px;width:61px;height:14px;line-height:16px;background:#fdc47c;">-2.6%</div>
<div class="c" style="left:466px;top:561px;width:58px;height:14px;line-height:16px;background:#f9766e;">-19.8%</div>
<div class="c" style="left:524px;top:561px;width:64px;height:14px;line-height:16px;background:#f8696b;">-42.8%</div>
<div class="c" style="left:588px;top:561px;width:65px;height:14px;line-height:16px;background:#f97b6e;">-16.6%</div>
<div class="c" style="left:653px;top:561px;width:61px;height:14px;line-height:16px;background:#f98370;">-14.1%</div>
<div class="c" style="left:714px;top:561px;width:63px;height:14px;line-height:16px;background:#c7db81;">13.3%</div>
<div class="c" style="left:777px;top:561px;width:65px;height:14px;line-height:16px;background:#ffeb84;">4.7%</div>
<div class="c" style="left:842px;top:561px;width:61px;height:14px;line-height:16px;background:#ffe382;">2.7%</div>
<div class="c" style="left:903px;top:561px;width:64px;height:14px;line-height:16px;background:#fcaf78;">-5.4%</div>
<div class="c" style="left:967px;top:561px;width:61px;height:14px;line-height:16px;background:#fcaa78;">-6.3%</div>
<div class="c" style="left:1028px;top:561px;width:61px;height:14px;line-height:16px;background:#fcb77a;">-4.5%</div>
<div class="c" style="left:1089px;top:561px;width:64px;height:14px;line-height:16px;background:#f97e6f;">-15.8%</div>
<div class="c" style="left:1153px;top:561px;width:61px;height:14px;line-height:16px;background:#fcaa78;">-6.6%</div>
<div class="l" style="top:575px;height:18px;line-height:17px;padding-left:1.8px;letter-spacing:0.154px;">High Speed Diesel Consumption</div>
<div class="c" style="left:342px;top:575px;width:63px;height:15px;line-height:17px;background:#fed17f;">2.0%</div>
<div class="c" style="left:405px;top:575px;width:61px;height:15px;line-height:17px;background:#fdc47c;">0.8%</div>
<div class="c" style="left:466px;top:575px;width:58px;height:15px;line-height:17px;background:#e9e583;">4.5%</div>
<div class="c" style="left:524px;top:575px;width:64px;height:15px;line-height:17px;background:#fa9072;">-2.7%</div>
<div class="c" style="left:588px;top:575px;width:65px;height:15px;line-height:17px;background:#fb9874;">-2.0%</div>
<div class="c" style="left:653px;top:575px;width:61px;height:15px;line-height:17px;background:#fcb77a;">0.2%</div>
<div class="c" style="left:714px;top:575px;width:63px;height:15px;line-height:17px;background:#a1d07f;">9.0%</div>
<div class="c" style="left:777px;top:575px;width:65px;height:15px;line-height:17px;background:#cadc81;">6.5%</div>
<div class="c" style="left:842px;top:575px;width:61px;height:15px;line-height:17px;background:#e0e282;">4.9%</div>
<div class="c" style="left:903px;top:575px;width:64px;height:15px;line-height:17px;background:#fba276;">-1.3%</div>
<div class="c" style="left:967px;top:575px;width:61px;height:15px;line-height:17px;background:#fdbf7c;">0.6%</div>
<div class="c" style="left:1028px;top:575px;width:61px;height:15px;line-height:17px;background:#f6e883;">3.8%</div>
<div class="c" style="left:1089px;top:575px;width:64px;height:15px;line-height:17px;background:#fdcc7e;">1.5%</div>
<div class="c" style="left:1153px;top:575px;width:61px;height:15px;line-height:17px;background:#f9e984;">3.6%</div>
<div class="l" style="top:590px;height:18px;line-height:17px;padding-left:1.8px;letter-spacing:0.128px;">Power Demand</div>
<div class="c" style="left:342px;top:590px;width:63px;height:15px;line-height:17px;background:#63be7b;">13.5%</div>
<div class="c" style="left:405px;top:590px;width:61px;height:15px;line-height:17px;background:#c1d980;">7.6%</div>
<div class="c" style="left:466px;top:590px;width:58px;height:15px;line-height:17px;background:#ffeb84;">4.2%</div>
<div class="c" style="left:524px;top:590px;width:64px;height:15px;line-height:17px;background:#f8696b;">-5.2%</div>
<div class="c" style="left:588px;top:590px;width:65px;height:15px;line-height:17px;background:#fa8b72;">-0.7%</div>
<div class="c" style="left:653px;top:590px;width:61px;height:15px;line-height:17px;background:#fa9072;">-0.3%</div>
<div class="c" style="left:714px;top:590px;width:63px;height:15px;line-height:17px;background:#fed980;">3.6%</div>
<div class="c" style="left:777px;top:590px;width:65px;height:15px;line-height:17px;background:#efe683;">5.6%</div>
<div class="c" style="left:842px;top:590px;width:61px;height:15px;line-height:17px;background:#fcaa78;">1.3%</div>
<div class="c" style="left:903px;top:590px;width:64px;height:15px;line-height:17px;background:#fcbc7b;">2.2%</div>
<div class="c" style="left:967px;top:590px;width:61px;height:15px;line-height:17px;background:#e6e483;">5.9%</div>
<div class="c" style="left:1028px;top:590px;width:61px;height:15px;line-height:17px;background:#fdc97e;">2.9%</div>
<div class="c" style="left:1089px;top:590px;width:64px;height:15px;line-height:17px;background:#f86c6c;">-4.4%</div>
<div class="c" style="left:1153px;top:590px;width:61px;height:15px;line-height:17px;background:#f97e6f;">-1.6%</div>
<div class="l" style="top:605px;height:18px;line-height:17px;padding-left:1.8px;letter-spacing:0.046px;">Power Demand - daily</div>
<div class="c" style="left:342px;top:605px;width:63px;height:15px;line-height:17px;background:#63be7b;">16.0%</div>
<div class="c" style="left:405px;top:605px;width:61px;height:15px;line-height:17px;background:#c1d980;">8.8%</div>
<div class="c" style="left:466px;top:605px;width:58px;height:15px;line-height:17px;background:#c1d980;">8.8%</div>
<div class="c" style="left:524px;top:605px;width:64px;height:15px;line-height:17px;background:#f8696b;">-5.4%</div>
<div class="c" style="left:588px;top:605px;width:65px;height:15px;line-height:17px;background:#fb9d75;">0.6%</div>
<div class="c" style="left:653px;top:605px;width:61px;height:15px;line-height:17px;background:#fba576;">1.1%</div>
<div class="c" style="left:714px;top:605px;width:63px;height:15px;line-height:17px;background:#fed17f;">3.7%</div>
<div class="c" style="left:777px;top:605px;width:65px;height:15px;line-height:17px;background:#f6e883;">6.0%</div>
<div class="c" style="left:842px;top:605px;width:61px;height:15px;line-height:17px;background:#fdbf7c;">2.6%</div>
<div class="c" style="left:903px;top:605px;width:64px;height:15px;line-height:17px;background:#fa8b72;">-0.6%</div>
<div class="c" style="left:967px;top:605px;width:61px;height:15px;line-height:17px;background:#e6e483;">7.0%</div>
<div class="c" style="left:1028px;top:605px;width:61px;height:15px;line-height:17px;background:#fcb77a;">2.3%</div>
<div class="c" style="left:1089px;top:605px;width:64px;height:15px;line-height:17px;background:#f8696b;">-5.2%</div>
<div class="c" style="left:1153px;top:605px;width:61px;height:15px;line-height:17px;background:#f97b6e;">-1.6%</div>
<div class="l" style="top:620px;height:17px;line-height:16px;padding-left:1.8px;letter-spacing:-0.047px;">Electricity Generation: Utilities</div>
<div class="c" style="left:342px;top:620px;width:63px;height:14px;line-height:16px;background:#63be7b;">14.2%</div>
<div class="c" style="left:405px;top:620px;width:61px;height:14px;line-height:16px;background:#a1d07f;">9.4%</div>
<div class="c" style="left:466px;top:620px;width:58px;height:14px;line-height:16px;background:#c7db81;">7.1%</div>
<div class="c" style="left:524px;top:620px;width:64px;height:14px;line-height:16px;background:#f8696b;">-4.1%</div>
<div class="c" style="left:588px;top:620px;width:65px;height:14px;line-height:16px;background:#f97e6f;">-1.1%</div>
<div class="c" style="left:653px;top:620px;width:61px;height:14px;line-height:16px;background:#fb9d75;">0.5%</div>
<div class="c" style="left:714px;top:620px;width:63px;height:14px;line-height:16px;background:#fcbc7b;">2.4%</div>
<div class="c" style="left:777px;top:620px;width:65px;height:14px;line-height:16px;background:#ffeb84;">5.0%</div>
<div class="c" style="left:842px;top:620px;width:61px;height:14px;line-height:16px;background:#f9766e;">-1.3%</div>
<div class="c" style="left:903px;top:620px;width:64px;height:14px;line-height:16px;background:#fcb77a;">2.2%</div>
<div class="c" style="left:967px;top:620px;width:61px;height:14px;line-height:16px;background:#f6e883;">5.3%</div>
<div class="c" style="left:1028px;top:620px;width:61px;height:14px;line-height:16px;background:#f9736d;">-1.7%</div>
<div class="c" style="left:1089px;top:620px;width:64px;height:14px;line-height:16px;background:#f8696b;">-8.3%</div>
<div class="c" style="left:1153px;top:620px;width:61px;height:14px;line-height:16px;background:#f8716c;">-2.3%</div>
<div class="l" style="top:634px;height:18px;line-height:17px;padding-left:9.3px;letter-spacing:-0.074px;">Electricity Generation - daily</div>
<div class="c" style="left:342px;top:634px;width:63px;height:15px;line-height:17px;background:#63be7b;">15.9%</div>
<div class="c" style="left:405px;top:634px;width:61px;height:15px;line-height:17px;background:#c1d980;">8.8%</div>
<div class="c" style="left:466px;top:634px;width:58px;height:15px;line-height:17px;background:#c1d980;">9.0%</div>
<div class="c" style="left:524px;top:634px;width:64px;height:15px;line-height:17px;background:#f8696b;">-5.0%</div>
<div class="c" style="left:588px;top:634px;width:65px;height:15px;line-height:17px;background:#fb9d75;">0.5%</div>
<div class="c" style="left:653px;top:634px;width:61px;height:15px;line-height:17px;background:#fba276;">0.8%</div>
<div class="c" style="left:714px;top:634px;width:63px;height:15px;line-height:17px;background:#fed17f;">3.5%</div>
<div class="c" style="left:777px;top:634px;width:65px;height:15px;line-height:17px;background:#ffeb84;">5.3%</div>
<div class="c" style="left:842px;top:634px;width:61px;height:15px;line-height:17px;background:#fcb77a;">2.2%</div>
<div class="c" style="left:903px;top:634px;width:64px;height:15px;line-height:17px;background:#fa8b72;">-0.5%</div>
<div class="c" style="left:967px;top:634px;width:61px;height:15px;line-height:17px;background:#ece683;">6.6%</div>
<div class="c" style="left:1028px;top:634px;width:61px;height:15px;line-height:17px;background:#fcb279;">1.7%</div>
<div class="c" style="left:1089px;top:634px;width:64px;height:15px;line-height:17px;background:#f8696b;">-5.5%</div>
<div class="c" style="left:1153px;top:634px;width:61px;height:15px;line-height:17px;background:#f9766e;">-2.3%</div>
<div class="l" style="top:649px;height:18px;line-height:17px;padding-left:1.8px;letter-spacing:0.12px;">Goods Vehicle Registrations (3mma)</div>
<div class="c" style="left:342px;top:649px;width:63px;height:15px;line-height:17px;background:#ffeb84;">2.3%</div>
<div class="c" style="left:405px;top:649px;width:61px;height:15px;line-height:17px;background:#fdc97e;">-3.9%</div>
<div class="c" style="left:466px;top:649px;width:58px;height:15px;line-height:17px;background:#fed17f;">-2.6%</div>
<div class="c" style="left:524px;top:649px;width:64px;height:15px;line-height:17px;background:#fdc97e;">-4.2%</div>
<div class="c" style="left:588px;top:649px;width:65px;height:15px;line-height:17px;background:#fdbf7c;">-6.0%</div>
<div class="c" style="left:653px;top:649px;width:61px;height:15px;line-height:17px;background:#fdbf7c;">-5.9%</div>
<div class="c" style="left:714px;top:649px;width:63px;height:15px;line-height:17px;background:#fdc47c;">-5.2%</div>
<div class="c" style="left:777px;top:649px;width:65px;height:15px;line-height:17px;background:#fdcc7e;">-3.2%</div>
<div class="c" style="left:842px;top:649px;width:61px;height:15px;line-height:17px;background:#e9e583;">6.0%</div>
<div class="c" style="left:903px;top:649px;width:64px;height:15px;line-height:17px;background:#fede82;">-0.7%</div>
<div class="c" style="left:967px;top:649px;width:61px;height:15px;line-height:17px;background:#fedb81;">-1.0%</div>
<div class="c" style="left:1028px;top:649px;width:61px;height:15px;line-height:17px;background:#fcaa78;">-10.2%</div>
<div class="c" style="left:1089px;top:649px;width:64px;height:15px;line-height:17px;background:#fcaa78;">-10.4%</div>
<div class="c" style="left:1153px;top:649px;width:61px;height:15px;line-height:17px;background:#fed17f;">-2.9%</div>
<div class="l" style="top:664px;height:18px;line-height:17px;padding-left:1.8px;letter-spacing:-0.039px;">Government Capital Expenditure</div>
<div class="c" style="left:342px;top:664px;width:63px;height:15px;line-height:17px;background:#f97e6f;">-41.5%</div>
<div class="c" style="left:405px;top:664px;width:61px;height:15px;line-height:17px;background:#f86e6c;">-68.6%</div>
<div class="c" style="left:466px;top:664px;width:58px;height:15px;line-height:17px;background:#c1d980;">68.8%</div>
<div class="c" style="left:524px;top:664px;width:64px;height:15px;line-height:17px;background:#fcaa78;">-16.9%</div>
<div class="c" style="left:588px;top:664px;width:65px;height:15px;line-height:17px;background:#fdbf7c;">-5.5%</div>
<div class="c" style="left:653px;top:664px;width:61px;height:15px;line-height:17px;background:#fdc47c;">-3.6%</div>
<div class="c" style="left:714px;top:664px;width:63px;height:15px;line-height:17px;background:#ffeb84;">15.9%</div>
<div class="c" style="left:777px;top:664px;width:65px;height:15px;line-height:17px;background:#6cc17c;">119.6%</div>
<div class="c" style="left:842px;top:664px;width:61px;height:15px;line-height:17px;background:#dae082;">44.5%</div>
<div class="c" style="left:903px;top:664px;width:64px;height:15px;line-height:17px;background:#fa9072;">-29.9%</div>
<div class="c" style="left:967px;top:664px;width:61px;height:15px;line-height:17px;background:#69c07b;">122.6%</div>
<div class="c" style="left:1028px;top:664px;width:61px;height:15px;line-height:17px;background:#a1d07f;">78.5%</div>
<div class="c" style="left:1089px;top:664px;width:64px;height:15px;line-height:17px;background:#73c27c;">111.2%</div>
<div class="c" style="left:1153px;top:664px;width:61px;height:15px;line-height:17px;background:#63be7b;">306.0%</div>
<div class="l" style="top:694px;height:17px;line-height:16px;padding-left:1.8px;letter-spacing:-0.07px;">Revenue Spending ex Interest Expense</div>
<div class="c" style="left:342px;top:694px;width:63px;height:14px;line-height:16px;background:#fb9874;">-11.4%</div>
<div class="c" style="left:405px;top:694px;width:61px;height:14px;line-height:16px;background:#fdbf7c;">-2.7%</div>
<div class="c" style="left:466px;top:694px;width:58px;height:14px;line-height:16px;background:#f86e6c;">-21.5%</div>
<div class="c" style="left:524px;top:694px;width:64px;height:14px;line-height:16px;background:#73c27c;">41.7%</div>
<div class="c" style="left:588px;top:694px;width:65px;height:14px;line-height:16px;background:#fede82;">4.5%</div>
<div class="c" style="left:653px;top:694px;width:61px;height:14px;line-height:16px;background:#69c07b;">45.4%</div>
<div class="c" style="left:714px;top:694px;width:63px;height:14px;line-height:16px;background:#fed17f;">1.5%</div>
<div class="c" style="left:777px;top:694px;width:65px;height:14px;line-height:16px;background:#fed17f;">2.5%</div>
<div class="c" style="left:842px;top:694px;width:61px;height:14px;line-height:16px;background:#ffeb84;">8.7%</div>
<div class="c" style="left:903px;top:694px;width:64px;height:14px;line-height:16px;background:#f8696b;">-24.1%</div>
<div class="c" style="left:967px;top:694px;width:61px;height:14px;line-height:16px;background:#fed17f;">1.8%</div>
<div class="c" style="left:1028px;top:694px;width:61px;height:14px;line-height:16px;background:#f6e883;">10.8%</div>
<div class="c" style="left:1089px;top:694px;width:64px;height:14px;line-height:16px;background:#e6e483;">14.7%</div>
<div class="c" style="left:1153px;top:694px;width:61px;height:14px;line-height:16px;background:#fdbf7c;">-1.9%</div>
<div class="l" style="top:723px;height:18px;line-height:17px;padding-left:1.8px;letter-spacing:-0.107px;">Non-Oil Exports</div>
<div class="c" style="left:342px;top:723px;width:63px;height:15px;line-height:17px;background:#d0de81;">7.1%</div>
<div class="c" style="left:405px;top:723px;width:61px;height:15px;line-height:17px;background:#cadc81;">8.0%</div>
<div class="c" style="left:466px;top:723px;width:58px;height:15px;line-height:17px;background:#e9e583;">4.8%</div>
<div class="c" style="left:524px;top:723px;width:64px;height:15px;line-height:17px;background:#fed17f;">0.3%</div>
<div class="c" style="left:588px;top:723px;width:65px;height:15px;line-height:17px;background:#d3de81;">6.8%</div>
<div class="c" style="left:653px;top:723px;width:61px;height:15px;line-height:17px;background:#6cc17c;">25.5%</div>
<div class="c" style="left:714px;top:723px;width:63px;height:15px;line-height:17px;background:#d3de81;">6.9%</div>
<div class="c" style="left:777px;top:723px;width:65px;height:15px;line-height:17px;background:#e6e483;">5.2%</div>
<div class="c" style="left:842px;top:723px;width:61px;height:15px;line-height:17px;background:#98cd7e;">14.3%</div>
<div class="c" style="left:903px;top:723px;width:64px;height:15px;line-height:17px;background:#f98370;">-6.5%</div>
<div class="c" style="left:967px;top:723px;width:61px;height:15px;line-height:17px;background:#ffe683;">2.2%</div>
<div class="c" style="left:1028px;top:723px;width:61px;height:15px;line-height:17px;background:#bad780;">10.2%</div>
<div class="c" style="left:1089px;top:723px;width:64px;height:15px;line-height:17px;background:#ece683;">4.6%</div>
<div class="c" style="left:1153px;top:723px;width:61px;height:15px;line-height:17px;background:#c7db81;">8.3%</div>
<div class="l" style="top:738px;height:18px;line-height:17px;padding-left:1.8px;letter-spacing:-0.125px;">Services Exports</div>
<div class="c" style="left:342px;top:738px;width:63px;height:15px;line-height:17px;background:#e9e583;">10.0%</div>
<div class="c" style="left:405px;top:738px;width:61px;height:15px;line-height:17px;background:#fcb77a;">3.8%</div>
<div class="c" style="left:466px;top:738px;width:58px;height:15px;line-height:17px;background:#b1d480;">16.9%</div>
<div class="c" style="left:524px;top:738px;width:64px;height:15px;line-height:17px;background:#fed680;">5.8%</div>
<div class="c" style="left:588px;top:738px;width:65px;height:15px;line-height:17px;background:#c1d980;">15.0%</div>
<div class="c" style="left:653px;top:738px;width:61px;height:15px;line-height:17px;background:#82c77d;">22.2%</div>
<div class="c" style="left:714px;top:738px;width:63px;height:15px;line-height:17px;background:#c7db81;">14.2%</div>
<div class="c" style="left:777px;top:738px;width:65px;height:15px;line-height:17px;background:#b1d480;">16.7%</div>
<div class="c" style="left:842px;top:738px;width:61px;height:15px;line-height:17px;background:#e0e282;">10.8%</div>
<div class="c" style="left:903px;top:738px;width:64px;height:15px;line-height:17px;background:#dae082;">11.8%</div>
<div class="c" style="left:967px;top:738px;width:61px;height:15px;line-height:17px;background:#9bce7e;">19.0%</div>
<div class="c" style="left:1028px;top:738px;width:61px;height:15px;line-height:17px;background:#f6e883;">8.8%</div>
<div class="c" style="left:1089px;top:738px;width:64px;height:15px;line-height:17px;background:#efe683;">9.5%</div>
<div class="c" style="left:1153px;top:738px;width:61px;height:15px;line-height:17px;background:#b1d480;">16.8%</div>
<div class="l" style="top:753px;height:18px;line-height:17px;padding-left:1.8px;letter-spacing:-0.055px;">Container Traffic: TEUs</div>
<div class="c" style="left:342px;top:753px;width:63px;height:15px;line-height:17px;background:#ffe683;">5.6%</div>
<div class="c" style="left:405px;top:753px;width:61px;height:15px;line-height:17px;background:#6cc17c;">15.5%</div>
<div class="c" style="left:466px;top:753px;width:58px;height:15px;line-height:17px;background:#a1d07f;">11.5%</div>
<div class="c" style="left:524px;top:753px;width:64px;height:15px;line-height:17px;background:#d6df82;">8.0%</div>
<div class="c" style="left:588px;top:753px;width:65px;height:15px;line-height:17px;background:#d3de81;">8.3%</div>
<div class="c" style="left:653px;top:753px;width:61px;height:15px;line-height:17px;background:#ffe382;">5.2%</div>
<div class="c" style="left:714px;top:753px;width:63px;height:15px;line-height:17px;background:#ffe884;">5.8%</div>
<div class="c" style="left:777px;top:753px;width:65px;height:15px;line-height:17px;background:#69c07b;">16.9%</div>
<div class="c" style="left:842px;top:753px;width:61px;height:15px;line-height:17px;background:#63be7b;">19.6%</div>
<div class="c" style="left:903px;top:753px;width:64px;height:15px;line-height:17px;background:#dae082;">7.8%</div>
<div class="c" style="left:967px;top:753px;width:61px;height:15px;line-height:17px;background:#a1d07f;">11.7%</div>
<div class="c" style="left:1028px;top:753px;width:61px;height:15px;line-height:17px;background:#79c47c;">14.1%</div>
<div class="c" style="left:1089px;top:753px;width:64px;height:15px;line-height:17px;background:#a1d07f;">11.4%</div>
<div class="c" style="left:1153px;top:753px;width:61px;height:15px;line-height:17px;background:#c1d980;">9.2%</div>
<div class="l" style="top:768px;height:18px;line-height:17px;padding-left:1.8px;letter-spacing:0.088px;">Cargo Traffic (Ton mn)</div>
<div class="c" style="left:342px;top:768px;width:63px;height:15px;line-height:17px;background:#ffe382;">3.2%</div>
<div class="c" style="left:405px;top:768px;width:61px;height:15px;line-height:17px;background:#d0de81;">6.5%</div>
<div class="c" style="left:466px;top:768px;width:58px;height:15px;line-height:17px;background:#e0e282;">5.8%</div>
<div class="c" style="left:524px;top:768px;width:64px;height:15px;line-height:17px;background:#d0de81;">6.5%</div>
<div class="c" style="left:588px;top:768px;width:65px;height:15px;line-height:17px;background:#dae082;">6.0%</div>
<div class="c" style="left:653px;top:768px;width:61px;height:15px;line-height:17px;background:#f8716c;">-3.5%</div>
<div class="c" style="left:714px;top:768px;width:63px;height:15px;line-height:17px;background:#f8696b;">-4.7%</div>
<div class="c" style="left:777px;top:768px;width:65px;height:15px;line-height:17px;background:#ffeb84;">3.9%</div>
<div class="c" style="left:842px;top:768px;width:61px;height:15px;line-height:17px;background:#dae082;">6.1%</div>
<div class="c" style="left:903px;top:768px;width:64px;height:15px;line-height:17px;background:#c1d980;">7.3%</div>
<div class="c" style="left:967px;top:768px;width:61px;height:15px;line-height:17px;background:#69c07b;">13.5%</div>
<div class="c" style="left:1028px;top:768px;width:61px;height:15px;line-height:17px;background:#c1d980;">7.2%</div>
<div class="c" style="left:1089px;top:768px;width:64px;height:15px;line-height:17px;background:#fcea84;">4.1%</div>
<div class="c" style="left:1153px;top:768px;width:61px;height:15px;line-height:17px;background:#ffe884;">3.6%</div>
<div class="l" style="top:783px;height:17px;line-height:16px;padding-left:1.8px;letter-spacing:-0.093px;">Air Cargo Traffic: All Airports</div>
<div class="c" style="left:342px;top:783px;width:63px;height:14px;line-height:16px;background:#a1d07f;">14.1%</div>
<div class="c" style="left:405px;top:783px;width:61px;height:14px;line-height:16px;background:#9bce7e;">14.4%</div>
<div class="c" style="left:466px;top:783px;width:58px;height:14px;line-height:16px;background:#73c27c;">18.0%</div>
<div class="c" style="left:524px;top:783px;width:64px;height:14px;line-height:16px;background:#b1d480;">12.5%</div>
<div class="c" style="left:588px;top:783px;width:65px;height:14px;line-height:16px;background:#69c07b;">19.4%</div>
<div class="c" style="left:653px;top:783px;width:61px;height:14px;line-height:16px;background:#88c97d;">16.4%</div>
<div class="c" style="left:714px;top:783px;width:63px;height:14px;line-height:16px;background:#c7db81;">10.1%</div>
<div class="c" style="left:777px;top:783px;width:65px;height:14px;line-height:16px;background:#d6df82;">8.7%</div>
<div class="c" style="left:842px;top:783px;width:61px;height:14px;line-height:16px;background:#efe683;">6.6%</div>
<div class="c" style="left:903px;top:783px;width:64px;height:14px;line-height:16px;background:#f98370;">-4.4%</div>
<div class="c" style="left:967px;top:783px;width:61px;height:14px;line-height:16px;background:#fed980;">3.7%</div>
<div class="c" style="left:1028px;top:783px;width:61px;height:14px;line-height:16px;background:#bad780;">11.3%</div>
<div class="c" style="left:1089px;top:783px;width:64px;height:14px;line-height:16px;background:#fede82;">4.4%</div>
<div class="c" style="left:1153px;top:783px;width:61px;height:14px;line-height:16px;background:#fedb81;">4.1%</div>
<div class="l" style="top:797px;height:18px;line-height:17px;padding-left:1.8px;letter-spacing:-0.002px;">Air Cargo Traffic: Domestic</div>
<div class="c" style="left:342px;top:797px;width:63px;height:15px;line-height:17px;background:#e6e483;">9.3%</div>
<div class="c" style="left:405px;top:797px;width:61px;height:15px;line-height:17px;background:#e9e583;">8.9%</div>
<div class="c" style="left:466px;top:797px;width:58px;height:15px;line-height:17px;background:#efe683;">8.1%</div>
<div class="c" style="left:524px;top:797px;width:64px;height:15px;line-height:17px;background:#fcb279;">0.4%</div>
<div class="c" style="left:588px;top:797px;width:65px;height:15px;line-height:17px;background:#a1d07f;">15.5%</div>
<div class="c" style="left:653px;top:797px;width:61px;height:15px;line-height:17px;background:#d0de81;">10.8%</div>
<div class="c" style="left:714px;top:797px;width:63px;height:15px;line-height:17px;background:#fcb77a;">1.2%</div>
<div class="c" style="left:777px;top:797px;width:65px;height:15px;line-height:17px;background:#fede82;">5.1%</div>
<div class="c" style="left:842px;top:797px;width:61px;height:15px;line-height:17px;background:#ffeb84;">6.5%</div>
<div class="c" style="left:903px;top:797px;width:64px;height:15px;line-height:17px;background:#fb9874;">-2.4%</div>
<div class="c" style="left:967px;top:797px;width:61px;height:15px;line-height:17px;background:#fedb81;">4.9%</div>
<div class="c" style="left:1028px;top:797px;width:61px;height:15px;line-height:17px;background:#a1d07f;">15.3%</div>
<div class="c" style="left:1089px;top:797px;width:64px;height:15px;line-height:17px;background:#fcbc7b;">1.7%</div>
<div class="c" style="left:1153px;top:797px;width:61px;height:15px;line-height:17px;background:#fdc47c;">2.4%</div>
<div class="l" style="top:812px;height:16px;line-height:17px;padding-left:1.8px;letter-spacing:-0.065px;">Air Cargo Traffic: International</div>
<div class="c" style="left:342px;top:812px;width:63px;height:15px;line-height:17px;background:#79c47c;">18.4%</div>
<div class="c" style="left:405px;top:812px;width:61px;height:15px;line-height:17px;background:#79c47c;">18.7%</div>
<div class="c" style="left:466px;top:812px;width:58px;height:15px;line-height:17px;background:#63be7b;">24.6%</div>
<div class="c" style="left:524px;top:812px;width:64px;height:15px;line-height:17px;background:#6cc17c;">20.7%</div>
<div class="c" style="left:588px;top:812px;width:65px;height:15px;line-height:17px;background:#69c07b;">21.9%</div>
<div class="c" style="left:653px;top:812px;width:61px;height:15px;line-height:17px;background:#76c37c;">19.0%</div>
<div class="c" style="left:714px;top:812px;width:63px;height:15px;line-height:17px;background:#88c97d;">16.3%</div>
<div class="c" style="left:777px;top:812px;width:65px;height:15px;line-height:17px;background:#c1d980;">11.1%</div>
<div class="c" style="left:842px;top:812px;width:61px;height:15px;line-height:17px;background:#f6e883;">6.8%</div>
<div class="c" style="left:903px;top:812px;width:64px;height:15px;line-height:17px;background:#f98370;">-5.9%</div>
<div class="c" style="left:967px;top:812px;width:61px;height:15px;line-height:17px;background:#fed17f;">2.9%</div>
<div class="c" style="left:1028px;top:812px;width:61px;height:15px;line-height:17px;background:#dae082;">8.8%</div>
<div class="c" style="left:1089px;top:812px;width:64px;height:15px;line-height:17px;background:#f6e883;">6.6%</div>
<div class="c" style="left:1153px;top:812px;width:61px;height:15px;line-height:17px;background:#ffe683;">5.3%</div>
<div class="abs" style="left:341px;top:103px;width:1px;height:726px;background:#8c8c8c;"></div>
<div class="abs src">Source: CEIC, MUFG GMR.&nbsp; Note: For indicators with daily data, we impute the monthly numbers with daily high frequency<br>progress. For indicators which stop before June 2025, we assume seasonally adjusted datapoints remain unchanged from the<br>last reported month</div>
</body></html>
